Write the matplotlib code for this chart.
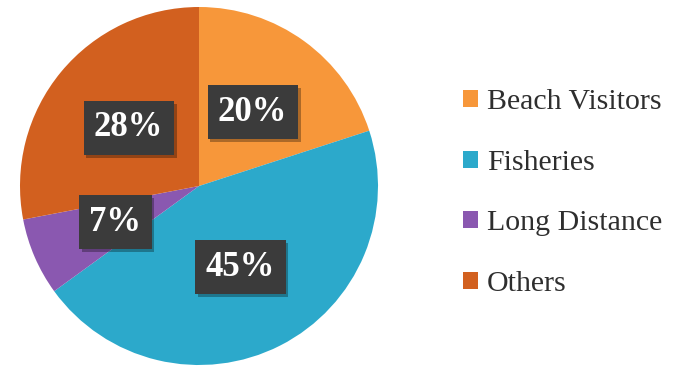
import matplotlib
matplotlib.use("Agg")
import matplotlib.pyplot as plt
from matplotlib.patches import Patch
import matplotlib.patheffects as pe

categories = ["Beach Visitors", "Fisheries", "Long Distance", "Others"]
shares = [20, 45, 7, 28]
colors = ["#F7973A", "#2CA9CB", "#8A58B0", "#D2601F"]

fig = plt.figure(figsize=(6.92, 3.72), dpi=100)
ax = fig.add_axes([20/692, 7/372, 358/692, 358/372])

wedges, texts, autotexts = ax.pie(
    shares, colors=colors, startangle=90, counterclock=False,
    autopct=lambda p: f"{p:.0f}%", pctdistance=0.51,
    wedgeprops=dict(linewidth=0),
    textprops=dict(color="white", fontsize=25, fontweight="bold",
                   family="Liberation Serif"))
for t in autotexts:
    t.set_bbox(dict(boxstyle="square,pad=0.3", facecolor="#3B3B3B",
                    edgecolor="none"))
    t.get_bbox_patch().set_path_effects(
        [pe.SimplePatchShadow(offset=(2, -2), shadow_rgbFace="black", alpha=0.3),
         pe.Normal()])
ax.set_aspect("equal")
ax.set_xlim(-1.0, 1.0)
ax.set_ylim(-1.0, 1.0)

handles = [Patch(facecolor=c, edgecolor="none") for c in colors]
leg = fig.legend(handles, categories, loc="center left",
                 bbox_to_anchor=(436/692, 179/372), frameon=False,
                 prop=dict(family="Liberation Serif", size=21.5),
                 handlelength=0.5, handleheight=0.5, handletextpad=0.3,
                 labelspacing=1.16, labelcolor="#2E2E2E")

fig.savefig("out.png", dpi=100)
